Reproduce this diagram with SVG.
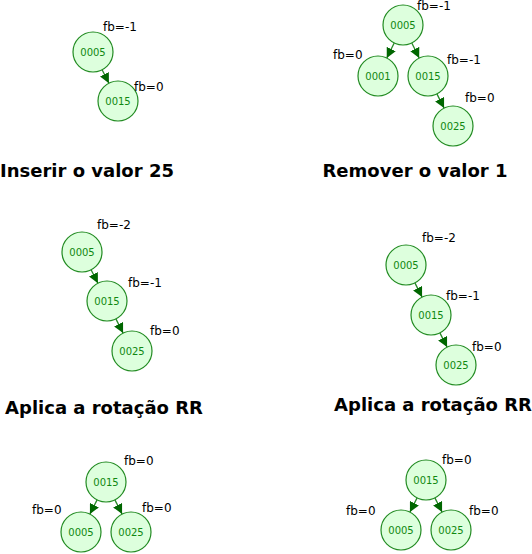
<svg xmlns="http://www.w3.org/2000/svg" width="532" height="554" viewBox="0 0 532 554">
<style>
.n circle{fill:#ddffdd;stroke:#228b22;stroke-width:1.2}
.n text{font-family:"DejaVu Sans",sans-serif;font-size:10px;fill:#118811;text-anchor:middle;dominant-baseline:central}
.fb{font-family:"DejaVu Sans",sans-serif;font-size:12px;fill:#000}
.t{font-family:"DejaVu Sans",sans-serif;font-size:18px;font-weight:bold;fill:#000;text-anchor:middle}
.e line{stroke:#2a8a2a;stroke-width:1.3;marker-end:url(#a)}
</style>
<defs>
<marker id="a" viewBox="0 0 10 10" refX="10" refY="5" markerWidth="10" markerHeight="10" markerUnits="userSpaceOnUse" orient="auto">
<path d="M0,0 L10,5 L0,10 z" fill="#006600"/>
</marker>
</defs>
<rect width="532" height="554" fill="#fff"/>
<g id="connectors" class="e">
<line x1="102.1" y1="69.8" x2="108.9" y2="83.2"/>
<line x1="394.2" y1="43" x2="386.8" y2="58"/>
<line x1="411.8" y1="43" x2="419.2" y2="58"/>
<line x1="436.9" y1="93.9" x2="444.1" y2="108.1"/>
<line x1="91.1" y1="269.8" x2="97.9" y2="283.2"/>
<line x1="115.9" y1="318.9" x2="123.1" y2="333.1"/>
<line x1="414.9" y1="282.9" x2="422.1" y2="297.1"/>
<line x1="439.9" y1="332.9" x2="447.1" y2="347.1"/>
<line x1="97.1" y1="499.9" x2="89.9" y2="514.1"/>
<line x1="114.9" y1="499.9" x2="122.1" y2="514.1"/>
<line x1="417.1" y1="497.9" x2="409.9" y2="512.1"/>
<line x1="434.9" y1="497.9" x2="442.1" y2="512.1"/>
</g>
<g id="p1n0005" class="n"><circle cx="93" cy="52" r="20"/><text x="93" y="52">0005</text></g>
<g id="p1n0015" class="n"><circle cx="118" cy="101" r="20"/><text x="118" y="101">0015</text></g>
<g id="p2n0005" class="n"><circle cx="403" cy="25" r="20"/><text x="403" y="25">0005</text></g>
<g id="p2n0001" class="n"><circle cx="378" cy="76" r="20"/><text x="378" y="76">0001</text></g>
<g id="p2n0015" class="n"><circle cx="428" cy="76" r="20"/><text x="428" y="76">0015</text></g>
<g id="p2n0025" class="n"><circle cx="453" cy="126" r="20"/><text x="453" y="126">0025</text></g>
<g id="p3n0005" class="n"><circle cx="82" cy="252" r="20"/><text x="82" y="252">0005</text></g>
<g id="p3n0015" class="n"><circle cx="107" cy="301" r="20"/><text x="107" y="301">0015</text></g>
<g id="p3n0025" class="n"><circle cx="132" cy="351" r="20"/><text x="132" y="351">0025</text></g>
<g id="p4n0005" class="n"><circle cx="406" cy="265" r="20"/><text x="406" y="265">0005</text></g>
<g id="p4n0015" class="n"><circle cx="431" cy="315" r="20"/><text x="431" y="315">0015</text></g>
<g id="p4n0025" class="n"><circle cx="456" cy="365" r="20"/><text x="456" y="365">0025</text></g>
<g id="p5n0015" class="n"><circle cx="106" cy="482" r="20"/><text x="106" y="482">0015</text></g>
<g id="p5n0005" class="n"><circle cx="81" cy="532" r="20"/><text x="81" y="532">0005</text></g>
<g id="p5n0025" class="n"><circle cx="131" cy="532" r="20"/><text x="131" y="532">0025</text></g>
<g id="p6n0015" class="n"><circle cx="426" cy="480" r="20"/><text x="426" y="480">0015</text></g>
<g id="p6n0005" class="n"><circle cx="401" cy="530" r="20"/><text x="401" y="530">0005</text></g>
<g id="p6n0025" class="n"><circle cx="451" cy="530" r="20"/><text x="451" y="530">0025</text></g>
<g id="labels">
<text class="fb" x="103" y="31">fb=-1</text>
<text class="fb" x="134" y="91">fb=0</text>
<text class="fb" x="417" y="10">fb=-1</text>
<text class="fb" x="333" y="59">fb=0</text>
<text class="fb" x="447" y="64">fb=-1</text>
<text class="fb" x="465" y="102">fb=0</text>
<text class="fb" x="97" y="229">fb=-2</text>
<text class="fb" x="128" y="287">fb=-1</text>
<text class="fb" x="150" y="335">fb=0</text>
<text class="fb" x="422" y="242">fb=-2</text>
<text class="fb" x="446" y="300">fb=-1</text>
<text class="fb" x="472" y="351">fb=0</text>
<text class="fb" x="124" y="465">fb=0</text>
<text class="fb" x="32" y="514">fb=0</text>
<text class="fb" x="142" y="512">fb=0</text>
<text class="fb" x="442" y="464">fb=0</text>
<text class="fb" x="346" y="515">fb=0</text>
<text class="fb" x="469" y="515">fb=0</text>
<text class="t" x="87" y="177">Inserir o valor 25</text>
<text class="t" x="415" y="177">Remover o valor 1</text>
<text class="t" x="104" y="414">Aplica a rotação RR</text>
<text class="t" x="433" y="411">Aplica a rotação RR</text>
</g>
</svg>
